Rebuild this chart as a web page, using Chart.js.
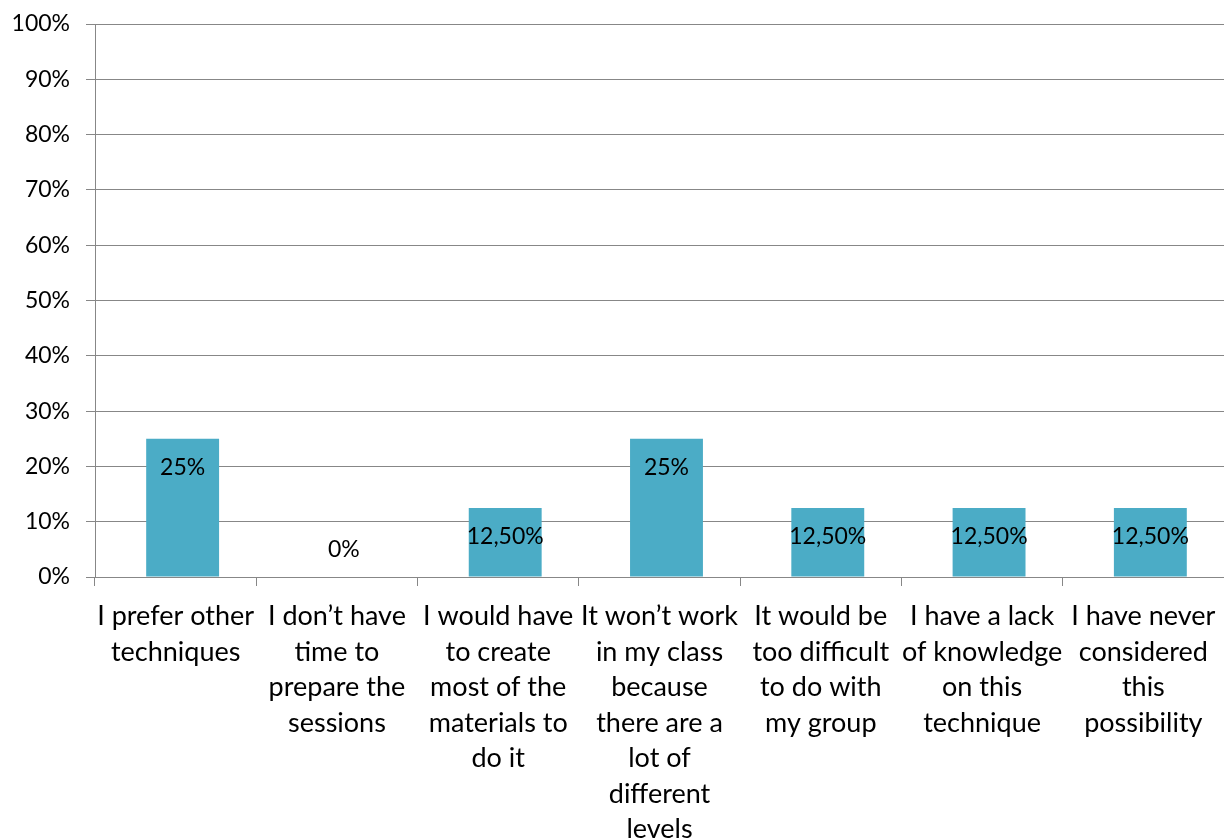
<!DOCTYPE html>
<html><head><meta charset="utf-8">
<script src="https://cdn.jsdelivr.net/npm/chart.js@4.4.1/dist/chart.umd.min.js"></script>
<style>html,body{margin:0;padding:0;background:#fff}#wrap{width:1224px;height:839px}</style>
</head><body><div id="wrap"><canvas id="c"></canvas></div>
<script>
const categories = [
  ["I prefer other", "techniques"],
  ["I don\u2019t have", "time to", "prepare the", "sessions"],
  ["I would have", "to create", "most of the", "materials to", "do it"],
  ["It won\u2019t work", "in my class", "because", "there are a", "lot of", "different", "levels"],
  ["It would be", "too difficult", "to do with", "my group"],
  ["I have a lack", "of knowledge", "on this", "technique"],
  ["I have never", "considered", "this", "possibility"]
];
const values = [25, 0, 12.5, 25, 12.5, 12.5, 12.5];
const valueLabels = ["25%", "0%", "12,50%", "25%", "12,50%", "12,50%", "12,50%"];

const FONT = "Lato, 'Open Sans', sans-serif";
const labelPlugin = {
  id: 'valLabels',
  afterDatasetsDraw(chart) {
    const ctx = chart.ctx;
    const meta = chart.getDatasetMeta(0);
    ctx.save();
    ctx.font = "23px " + FONT;
    ctx.fillStyle = "#000";
    ctx.textAlign = "center";
    ctx.textBaseline = "middle";
    meta.data.forEach((bar, i) => {
      const h = Math.abs(bar.base - bar.y);
      const y = h < 40 ? bar.base - 27 : bar.y + 29;
      ctx.fillText(valueLabels[i], bar.x, y);
    });
    ctx.restore();
  }
};

const points = values.map((v, i) => ({ x: i, y: v }));

new Chart(document.getElementById('c'), {
  type: 'bar',
  data: {
    labels: categories,
    datasets: [{ data: points, xAxisID: 'xb', backgroundColor: '#4BACC6', barPercentage: 0.452, categoryPercentage: 1 }]
  },
  options: {
    responsive: true, maintainAspectRatio: false, animation: false,
    layout: { padding: { top: 24, right: 0, left: 0, bottom: 0 } },
    plugins: { legend: { display: false }, tooltip: { enabled: false } },
    scales: {
      y: {
        min: 0, max: 100,
        ticks: { stepSize: 10, callback: v => v + '%', font: { family: FONT, size: 23 }, color: '#000', padding: 16 },
        grid: { color: '#878787', lineWidth: 1, tickLength: 9 },
        border: { color: '#878787' },
        afterFit(s) { s.width = 95; s.paddingTop = 0; s.paddingBottom = 0; }
      },
      x: {
        type: 'category',
        ticks: { font: { family: FONT, size: 27, lineHeight: '35.5px' }, color: '#000', maxRotation: 0, autoSkip: false, padding: 13 },
        grid: { offset: true, drawOnChartArea: false, color: '#878787', tickLength: 9 },
        border: { color: '#878787' },
        afterFit(s) { s.height = 262; s.paddingLeft = 0; s.paddingRight = 0; }
      },
      xb: {
        type: 'linear', display: false, position: 'bottom', offset: false,
        min: -0.5 - 7 / 161.5, max: 6.5 - 7 / 161.5,
        afterFit(s) { s.height = 0; }
      }
    }
  },
  plugins: [labelPlugin]
});
</script></body></html>
